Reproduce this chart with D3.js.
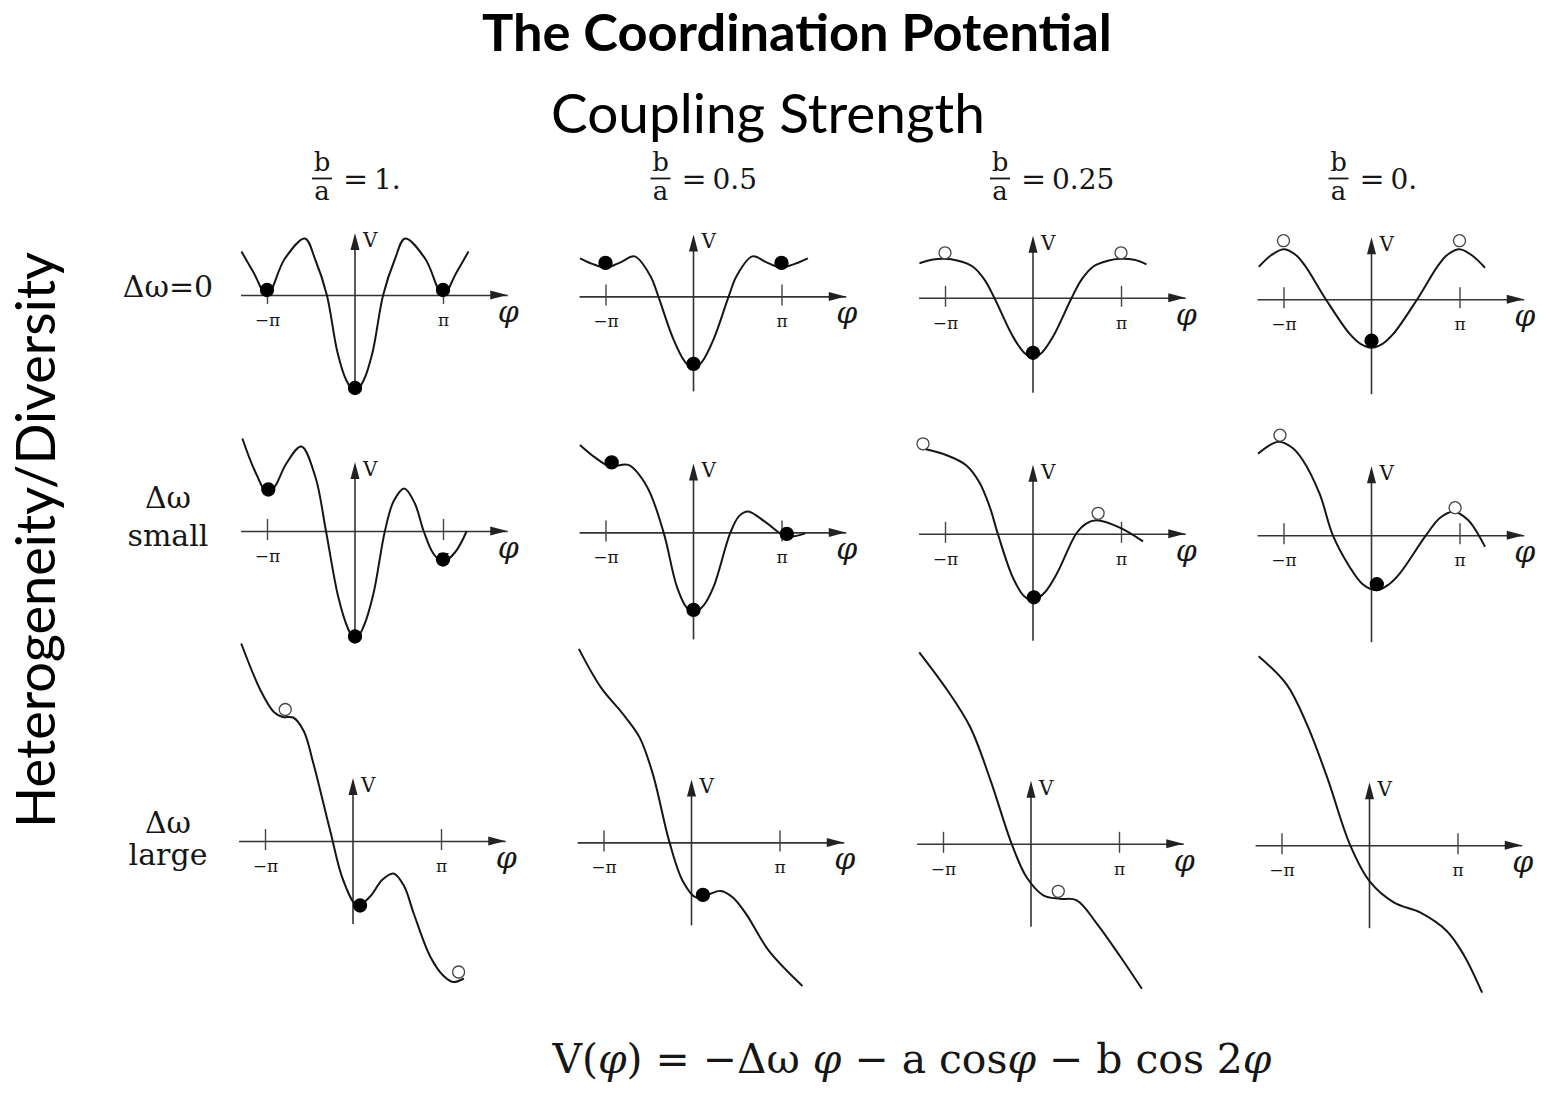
<!DOCTYPE html>
<html>
<head>
<meta charset="utf-8">
<script src="https://cdn.jsdelivr.net/npm/d3@7"></script>
<style>
  body { margin: 0; background: #fff; }
</style>
</head>
<body>
<svg id="canvas"></svg>
<script>
var w = 1550
var h = 1105

// ########## Data ##########

var ratioLabels = ["1.", "0.5", "0.25", "0."];
var rowLabels = [["Δω=0"], ["Δω", "small"], ["Δω", "large"]];
var tickLabels = ["−π", "π"];
var tickValues = [-1, 1];

// curves: [phi in units of pi, V]
var curveR1C1 = [[-1.29,0.87],[-1.15,0.44],[-1.0,0.0],[-0.8,0.72],[-0.57,1.13],[-0.45,0.7],[-0.32,0],[-0.2,-1.14],[-0.1,-1.7],[0,-1.94],[0.1,-1.7],[0.2,-1.14],[0.32,0],[0.45,0.7],[0.57,1.13],[0.8,0.72],[1.0,0.0],[1.15,0.44],[1.29,0.87]];
var curveR1C2 = [[-1.29,0.76],[-1.15,0.65],[-0.99,0.58],[-0.83,0.68],[-0.67,0.8],[-0.49,0.41],[-0.4,0],[-0.23,-0.85],[-0.1,-1.3],[0,-1.45],[0.1,-1.3],[0.23,-0.85],[0.4,0],[0.49,0.41],[0.67,0.8],[0.83,0.68],[0.99,0.58],[1.15,0.65],[1.3,0.76]];
var curveR1C3 = [[-1.29,0.69],[-1.15,0.76],[-1.01,0.78],[-0.85,0.74],[-0.69,0.63],[-0.55,0.36],[-0.44,0],[-0.23,-0.77],[-0.1,-1.1],[0,-1.2],[0.1,-1.1],[0.23,-0.77],[0.44,0],[0.55,0.36],[0.69,0.63],[0.85,0.74],[0.99,0.78],[1.15,0.76],[1.29,0.67]];
var curveR1C4 = [[-1.28,0.65],[-1.14,0.88],[-1.0,1.0],[-0.87,0.9],[-0.76,0.68],[-0.52,0],[-0.25,-0.69],[-0.12,-0.9],[0,-0.97],[0.12,-0.9],[0.25,-0.69],[0.52,0],[0.76,0.68],[0.87,0.9],[1.0,1.0],[1.14,0.88],[1.29,0.63]];
var curveR2C1 = [[-1.28,1.85],[-1.14,1.21],[-0.985,0.73],[-0.9,0.92],[-0.78,1.35],[-0.61,1.69],[-0.45,1.08],[-0.33,0],[-0.19,-1.32],[-0.08,-1.95],[0,-2.19],[0.1,-1.9],[0.21,-1.25],[0.34,0],[0.44,0.6],[0.56,0.85],[0.68,0.55],[0.78,0],[0.89,-0.45],[1.0,-0.62],[1.14,-0.42],[1.27,0]];
var curveR2C2 = [[-1.29,1.75],[-1.12,1.5],[-0.95,1.32],[-0.74,1.35],[-0.53,0.92],[-0.34,0],[-0.19,-1.08],[-0.08,-1.5],[0.01,-1.6],[0.12,-1.45],[0.23,-1.08],[0.42,0],[0.52,0.33],[0.62,0.42],[0.83,0.19],[1.05,-0.08],[1.27,-0.02]];
var curveR2C3 = [[-1.29,1.72],[-0.98,1.57],[-0.76,1.37],[-0.61,1.03],[-0.49,0.53],[-0.4,0],[-0.23,-0.87],[-0.1,-1.25],[0.01,-1.33],[0.13,-1.18],[0.27,-0.8],[0.49,0],[0.6,0.2],[0.72,0.27],[0.98,0.13],[1.25,-0.15]];
var curveR2C4 = [[-1.29,1.63],[-1.06,1.87],[-0.9,1.75],[-0.78,1.5],[-0.59,0.83],[-0.44,0],[-0.25,-0.63],[-0.1,-0.98],[0.06,-1.1],[0.2,-0.98],[0.32,-0.77],[0.62,0],[0.78,0.35],[0.93,0.47],[1.1,0.3],[1.29,-0.23]];
var curveR3C1 = [[-1.27,3.95],[-1.05,3.01],[-0.9,2.58],[-0.8,2.48],[-0.68,2.47],[-0.56,2.2],[-0.45,1.55],[-0.26,0.21],[-0.11,-0.79],[0.05,-1.29],[0.2,-1.1],[0.33,-0.78],[0.46,-0.65],[0.58,-0.9],[0.69,-1.45],[0.88,-2.32],[1.03,-2.7],[1.14,-2.82],[1.26,-2.75]];
var curveR3C2 = [[-1.28,3.87],[-1.03,3.1],[-0.78,2.57],[-0.59,2.1],[-0.44,1.37],[-0.25,0],[-0.1,-0.77],[0.05,-1.1],[0.18,-1.05],[0.33,-0.97],[0.47,-1.1],[0.62,-1.43],[0.88,-2.17],[1.26,-2.87]];
var curveR3C3 = [[-1.27,3.83],[-0.95,3.07],[-0.69,2.33],[-0.46,1.27],[-0.22,0],[-0.05,-0.67],[0.14,-1.03],[0.33,-1.1],[0.52,-1.13],[0.75,-1.6],[1.02,-2.27],[1.26,-2.9]];
var curveR3C4 = [[-1.26,3.78],[-0.94,3.21],[-0.71,2.41],[-0.48,1.35],[-0.22,0],[0,-0.72],[0.28,-1.15],[0.58,-1.35],[0.88,-1.72],[1.07,-2.19],[1.28,-2.95]];

// balls: [phi / pi, V, filled]
var dotsR1C1 = [[-1.0,0.1,1],[0,-1.86,1],[1.0,0.1,1]];
var dotsR1C2 = [[-1.0,0.67,1],[0,-1.35,1],[1.0,0.67,1]];
var dotsR1C3 = [[-1.0,0.9,0],[0,-1.1,1],[1.0,0.9,0]];
var dotsR1C4 = [[-1.0,1.17,0],[0,-0.83,1],[1.0,1.17,0]];
var dotsR2C1 = [[-0.985,0.83,1],[0,-2.11,1],[1.0,-0.57,1]];
var dotsR2C2 = [[-0.93,1.4,1],[0,-1.55,1],[1.06,-0.03,1]];
var dotsR2C3 = [[-1.25,1.8,0],[0.01,-1.27,1],[0.74,0.41,0]];
var dotsR2C4 = [[-1.04,2.0,0],[0.06,-0.98,1],[0.95,0.55,0]];
var dotsR3C1 = [[-0.77,2.63,0],[0.08,-1.29,1],[1.2,-2.62,0]];
var dotsR3C2 = [[0.13,-1.05,1]];
var dotsR3C3 = [[0.31,-0.95,0]];
var dotsR3C4 = [];

var curves = [
    [curveR1C1, curveR1C2, curveR1C3, curveR1C4],
    [curveR2C1, curveR2C2, curveR2C3, curveR2C4],
    [curveR3C1, curveR3C2, curveR3C3, curveR3C4]
];
var dots = [
    [dotsR1C1, dotsR1C2, dotsR1C3, dotsR1C4],
    [dotsR2C1, dotsR2C2, dotsR2C3, dotsR2C4],
    [dotsR3C1, dotsR3C2, dotsR3C3, dotsR3C4]
];

// ########## Layout ##########

var colX = [355, 693.5, 1033, 1371.5];
var rowY = [295, 531, 841];
var rowShift = [0, 0, -2];
var tilt = 1.4;
var pxPerPi = 88;
var pxPerV = 50;
var xDomain = [-1.3, 1.73];
var yAxisExtent = [[-1.9, 1.24], [-2.14, 1.38], [-1.66, 1.26]];

var serif = "'DejaVu Serif', serif";
var sans = "Lato, 'Open Sans', sans-serif";
var ink = "#161616";

// ########## SVG ##########

var svg = d3.select("#canvas")
    .attr("width", w)
    .attr("height", h)
    .style("background", "#fff");

function fit(sel, width) {
    var len = sel.node().getComputedTextLength();
    var fs = parseFloat(sel.attr("font-size"));
    sel.attr("font-size", fs * width / len);
}

// ########## Titles ##########

svg.append("text")
    .attr("x", 797).attr("y", 51)
    .attr("text-anchor", "middle")
    .attr("font-family", sans).attr("font-weight", 700)
    .attr("font-size", 42)
    .attr("fill", "#000")
    .text("The Coordination Potential")
    .call(fit, 630);

svg.append("text")
    .attr("x", 768).attr("y", 133)
    .attr("text-anchor", "middle")
    .attr("font-family", sans)
    .attr("font-size", 46)
    .attr("fill", "#000")
    .text("Coupling Strength")
    .call(fit, 434);

svg.append("text")
    .attr("transform", "translate(55,540) rotate(-90)")
    .attr("text-anchor", "middle")
    .attr("font-family", sans)
    .attr("font-size", 48)
    .attr("fill", "#000")
    .text("Heterogeneity/Diversity")
    .call(fit, 576);

// ########## Column headers ##########

var header = svg.selectAll(".header")
    .data(ratioLabels).enter()
    .append("g")
    .attr("class", "header")
    .attr("transform", function (d, i) { return "translate(" + colX[i] + ",0)"; });

header.append("text")
    .attr("x", -33).attr("y", 171)
    .attr("text-anchor", "middle")
    .attr("font-family", serif).attr("font-size", 26)
    .attr("fill", ink)
    .text("b");

header.append("line")
    .attr("x1", -43).attr("x2", -23)
    .attr("y1", 178.5).attr("y2", 178.5)
    .attr("stroke", ink).attr("stroke-width", 1.8);

header.append("text")
    .attr("x", -33).attr("y", 200)
    .attr("text-anchor", "middle")
    .attr("font-family", serif).attr("font-size", 26)
    .attr("fill", ink)
    .text("a");

header.append("text")
    .attr("x", -12).attr("y", 189)
    .attr("font-family", serif).attr("font-size", 30)
    .attr("fill", ink)
    .text("=");

header.append("text")
    .attr("x", 19).attr("y", 189)
    .attr("font-family", serif).attr("font-size", 28)
    .attr("fill", ink)
    .text(function (d) { return d; });

// ########## Row labels ##########

var rowLabelY = [[297], [508, 546], [833, 865]];

rowLabels.forEach(function (lines, r) {
    svg.selectAll(".rowlabel" + r)
        .data(lines).enter()
        .append("text")
        .attr("class", "rowlabel" + r)
        .attr("x", 168)
        .attr("y", function (d, i) { return rowLabelY[r][i]; })
        .attr("text-anchor", "middle")
        .attr("font-family", serif)
        .attr("font-size", 30)
        .attr("fill", ink)
        .text(function (d) { return d; });
});

// ########## Panels ##########

var line = d3.line().curve(d3.curveCatmullRom.alpha(0.5));

curves.forEach(function (row, r) {
    row.forEach(function (curve, c) {
        var cx = colX[c] + rowShift[r];
        var ay = rowY[r] + tilt * c;

        var x = d3.scaleLinear()
            .domain(xDomain)
            .range([cx + xDomain[0] * pxPerPi, cx + xDomain[1] * pxPerPi]);
        var y = d3.scaleLinear()
            .domain([0, 1])
            .range([ay, ay - pxPerV]);

        var g = svg.append("g").attr("class", "panel");

        // horizontal axis with the two pi ticks
        var axis = d3.axisBottom(x)
            .tickValues(tickValues)
            .tickFormat(function (d, i) { return tickLabels[i]; })
            .tickSizeInner(9)
            .tickSizeOuter(0)
            .tickPadding(10);

        var ax = g.append("g")
            .attr("transform", "translate(0," + ay + ")")
            .call(axis);
        ax.select(".domain").attr("stroke", "#333").attr("stroke-width", 1.6);
        ax.selectAll(".tick line")
            .attr("y1", -12)
            .attr("stroke", "#444").attr("stroke-width", 1.4);
        ax.selectAll(".tick text")
            .attr("font-family", serif).attr("font-size", 17)
            .attr("fill", ink);

        var tipX = x(xDomain[1]);
        g.append("path")
            .attr("d", "M" + tipX + "," + ay + "L" + (tipX - 17) + "," + (ay - 4.5) + "L" + (tipX - 17) + "," + (ay + 4.5) + "Z")
            .attr("fill", "#222");

        g.append("text")
            .attr("x", tipX + 1).attr("y", ay + 27)
            .attr("text-anchor", "middle")
            .attr("font-family", serif).attr("font-style", "italic")
            .attr("font-size", 30)
            .attr("fill", ink)
            .text("φ");

        // vertical axis
        var ext = yAxisExtent[r];
        var tipY = y(ext[1]);
        g.append("line")
            .attr("x1", x(0)).attr("x2", x(0))
            .attr("y1", y(ext[0])).attr("y2", tipY + 8)
            .attr("stroke", "#333").attr("stroke-width", 1.6);
        g.append("path")
            .attr("d", "M" + x(0) + "," + tipY + "L" + (x(0) - 4.5) + "," + (tipY + 17) + "L" + (x(0) + 4.5) + "," + (tipY + 17) + "Z")
            .attr("fill", "#222");
        g.append("text")
            .attr("x", x(0) + 8).attr("y", tipY + 14)
            .attr("font-family", serif)
            .attr("font-size", 20)
            .attr("fill", ink)
            .text("V");

        // potential curve
        line.x(function (d) { return x(d[0]); })
            .y(function (d) { return y(d[1]); });

        g.append("path")
            .datum(curve)
            .attr("d", line)
            .attr("fill", "none")
            .attr("stroke", ink)
            .attr("stroke-width", 2);

        // balls
        g.selectAll(".ball")
            .data(dots[r][c]).enter()
            .append("circle")
            .attr("class", "ball")
            .attr("cx", function (d) { return x(d[0]); })
            .attr("cy", function (d) { return y(d[1]); })
            .attr("r", function (d) { return d[2] ? 6.5 : 6; })
            .attr("fill", function (d) { return d[2] ? "#000" : "#fff"; })
            .attr("stroke", function (d) { return d[2] ? "#000" : "#444"; })
            .attr("stroke-width", 1.3);
    });
});

// ########## Formula ##########

var formula = svg.append("text")
    .attr("x", 912).attr("y", 1073)
    .attr("text-anchor", "middle")
    .attr("font-family", serif)
    .attr("font-size", 34)
    .attr("fill", ink);

var parts = [["V(", 0], ["φ", 1], [") = −Δω ", 0], ["φ", 1], [" − a cos", 0], ["φ", 1], [" − b cos 2", 0], ["φ", 1]];
parts.forEach(function (p) {
    formula.append("tspan")
        .attr("font-style", p[1] ? "italic" : "normal")
        .text(p[0]);
});
fit(formula, 719);
</script>
</body>
</html>
